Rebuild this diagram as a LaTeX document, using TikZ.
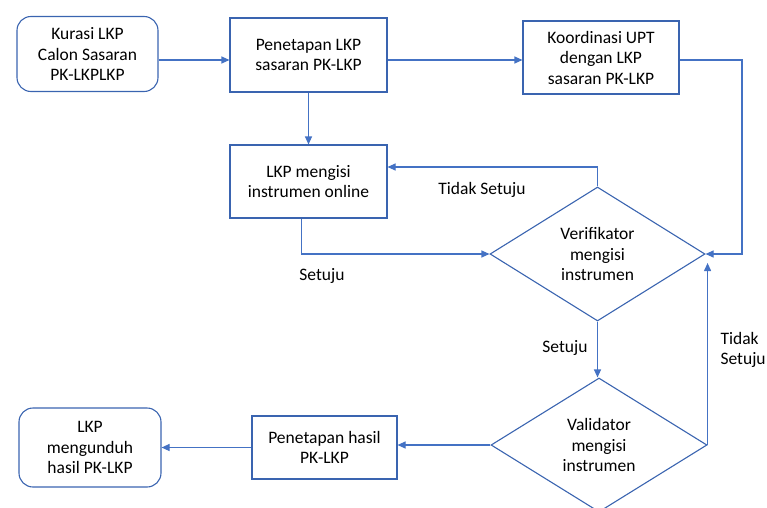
\documentclass[tikz,border=0pt]{standalone}
\usepackage{fontspec}
\setmainfont{Carlito}
\usetikzlibrary{shapes.geometric,arrows.meta}
\definecolor{lineblue}{HTML}{4472C4}
\definecolor{boxblue}{HTML}{3A64B0}
\begin{document}
\begin{tikzpicture}[x=1pt,y=1pt,
  every node/.style={font=\fontsize{17.5}{20.5}\selectfont, align=center, text=black},
  box/.style={draw=boxblue, line width=1.1pt, inner sep=0},
  rbox/.style={box, rounded corners=14pt},
  dia/.style={diamond, draw=boxblue, line width=1.1pt, inner sep=0},
  conn/.style={draw=lineblue, line width=1.1pt},
  arr/.style={conn, -{Triangle[length=8pt,width=7pt]}}]
\useasboundingbox (0,0) rectangle (767,507);
\clip (0,0) rectangle (767,507);
\node[rbox, minimum width=141pt, minimum height=75pt] (n1) at (87.5,453) {Kurasi LKP\\Calon Sasaran\\PK-LKPLKP};
\node[box, minimum width=157pt, minimum height=74pt] (n2) at (308.5,452) {Penetapan LKP\\sasaran PK-LKP};
\node[box, minimum width=156pt, minimum height=73pt] (n3) at (601,449.5) {Koordinasi UPT\\dengan LKP\\sasaran PK-LKP};
\node[box, minimum width=157pt, minimum height=73pt] (n4) at (308.5,325.5) {LKP mengisi\\instrumen online};
\node[dia, minimum width=215pt, minimum height=134pt] (d1) at (597.5,253) {Verifikator\\mengisi\\instrumen};
\node[dia, minimum width=216pt, minimum height=134pt] (d2) at (599,62) {Validator\\mengisi\\instrumen};
\node[box, minimum width=145pt, minimum height=63pt] (n5) at (324.5,59.5) {Penetapan hasil\\PK-LKP};
\node[rbox, minimum width=142pt, minimum height=79pt] (n6) at (90,59.5) {LKP\\mengunduh\\hasil PK-LKP};

\coordinate (c1) at (742,447);
\draw[arr] (n1.east |- c1) -- (n2.west |- c1);
\draw[arr] (n2.east |- c1) -- (n3.west |- c1);
\draw[arr] (n3.east |- c1) -- (c1) |- (d1.east);
\draw[arr] (n2.south) -- (n4.north);
\draw[arr] ([xshift=-7pt]n4.south) |- (d1.west);
\coordinate (c2) at (0,340);
\draw[arr] (d1.north) |- (n4.east |- c2);
\draw[arr] (d1.south) -- (d1.south |- d2.north);
\coordinate (c3) at (0,244);
\draw[arr] (d2.east) -- (d2.east |- c3);
\draw[arr] (d2.west) -- (n5.east |- d2.west);
\draw[arr] (n5.west) -- (n6.east |- n5.west);

\node (l1) at (482,317) {Tidak Setuju};
\node (l2) at (322,231) {Setuju};
\node (l3) at (565,159) {Setuju};
\node[anchor=west, align=left] (l4) at (717,157) {Tidak\\Setuju};
\end{tikzpicture}
\end{document}
